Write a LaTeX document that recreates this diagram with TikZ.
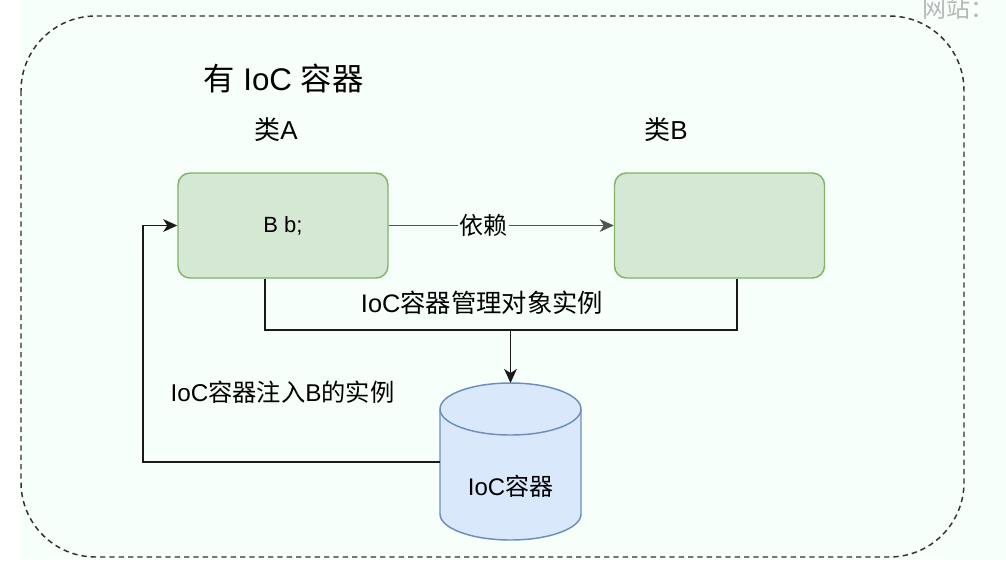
\documentclass[tikz,border=0pt]{standalone}
\usepackage{fontspec}
\setmainfont{Liberation Sans}
\newfontfamily\cjk{Noto Sans CJK SC}
\usetikzlibrary{arrows.meta}
\definecolor{mint}{RGB}{246,255,250}
\definecolor{gfill}{HTML}{D5E8D4}
\definecolor{gline}{HTML}{82B366}
\definecolor{bfill}{HTML}{DAE8FC}
\definecolor{bline}{HTML}{6C8EBF}
\definecolor{ink}{HTML}{1A1A1A}
\definecolor{wm}{HTML}{B8B8B8}
\tikzset{
  classbox/.style={draw=gline, fill=gfill, line width=1.1pt, rounded corners=9pt,
    minimum width=157.5pt, minimum height=78.75pt, inner sep=0pt, font=\fontsize{16.5}{19}\selectfont},
  conn/.style={draw=ink, line width=1.15pt},
  tip/.style={-{Stealth[length=10.5pt,width=9.5pt,inset=3pt]}},
  lbl/.style={font=\fontsize{19}{22}\selectfont, text=black, inner sep=1pt},
  hdr/.style={font=\fontsize{19.5}{23}\selectfont, text=black, inner sep=0pt},
}
\begin{document}
\begin{tikzpicture}[x=0.75pt,y=-0.75pt]
\useasboundingbox (0,0) rectangle (1006,583);
\fill[white] (0,0) rectangle (1006,583);
\fill[mint] (20,0) rectangle (1006,559);
\node[font=\cjk\fontsize{18}{20}\selectfont, text=wm, anchor=west, inner sep=0pt] (wmk) at (922,8) {网站：};
\draw[draw=ink!90, line width=1.1pt, dash pattern=on 4pt off 3pt, rounded corners=56pt] (21,16) rectangle (964,557);
\node[font=\fontsize{23.5}{27}\selectfont, text=black, anchor=west, inner sep=0pt] (title) at (203,78) {{\cjk 有} IoC {\cjk 容器}};
\node[hdr] (la) at (276,130) {{\cjk 类}A};
\node[hdr] (lb) at (666,130) {{\cjk 类}B};
\node[classbox] (A) at (283,225.5) {B b;};
\node[classbox] (B) at (719.5,225.5) {};
% cylinder
\path[fill=bfill, draw=bline, line width=1.1pt] (440,409) -- (440,514) arc (180:360:52.875pt and 19.5pt) -- (581,409) arc (0:180:52.875pt and 19.5pt) -- cycle;
\draw[draw=bline, line width=1.1pt] (440,409) arc (180:360:52.875pt and 19.5pt);
\coordinate (cyltop) at (510.5,383);
\coordinate (cylleft) at (440,462);
\node[lbl, font=\fontsize{18}{21}\selectfont] (cyl) at (510.5,486) {IoC{\cjk 容器}};
% connectors
\draw[conn, draw=ink!75, tip] (A) -- node[pos=0.42, lbl, fill=mint, font=\cjk\fontsize{18}{21}\selectfont] (dep) {依赖} (B);
\coordinate (j) at (510.5,330);
\draw[conn] ([xshift=-13.5pt]A.south) |- (j) -| ([xshift=13.125pt]B.south);
\draw[conn, tip] (j) -- (cyltop);
\node[lbl] (mgmt) at (482,303) {IoC{\cjk 容器管理对象实例}};
\coordinate (bend) at (143,462);
\draw[conn, tip] (cylleft) -- (bend) |- (A.west);
\node[lbl, anchor=west, font=\fontsize{18.2}{21}\selectfont] (inj) at (169,392) {IoC{\cjk 容器注入}B{\cjk 的实例}};
\end{tikzpicture}
\end{document}
